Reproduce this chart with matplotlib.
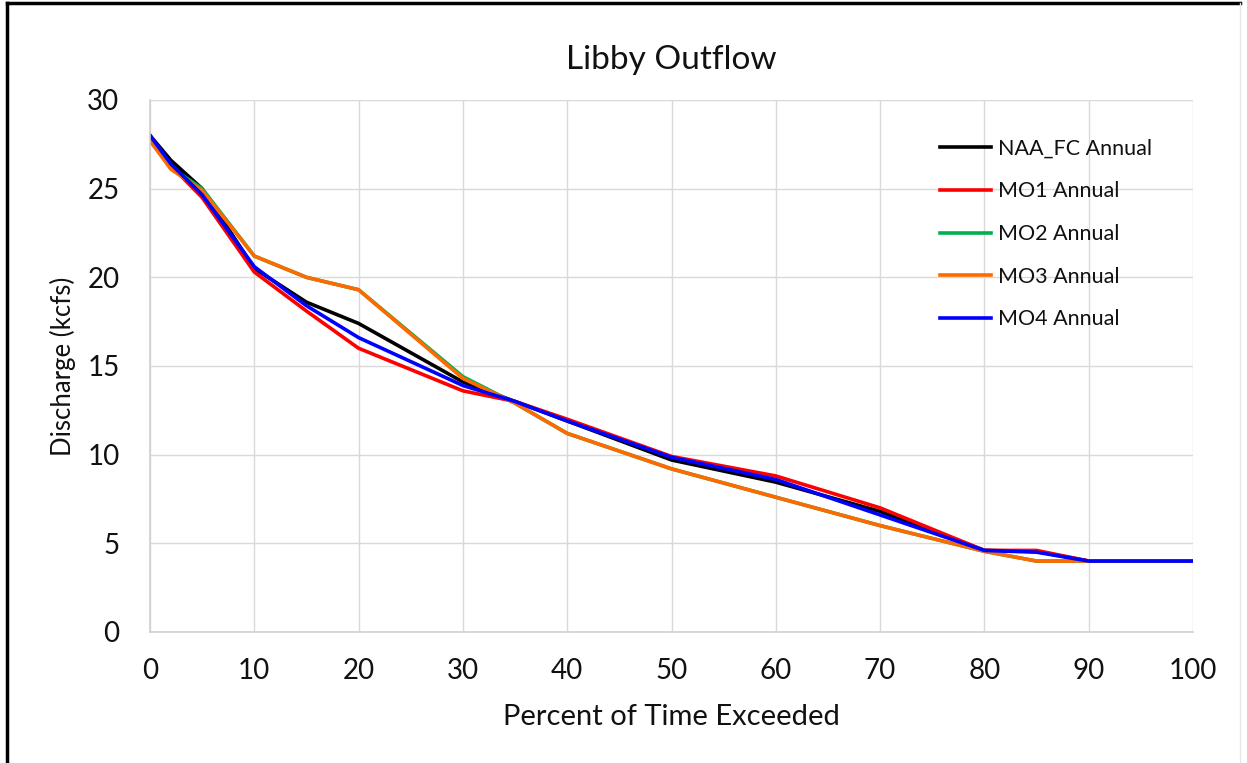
import matplotlib.pyplot as plt
from matplotlib.lines import Line2D

# exceedance percent and discharge (kcfs)
pct = [0, 2, 5, 10, 15, 20, 30, 35, 40, 50, 60, 70, 80, 85, 90, 100]
naa_fc = [28.0, 26.6, 25.0, 20.5, 18.6, 17.4, 14.1, 13.0, 11.9, 9.7, 8.45, 6.8, 4.6, 4.55, 4.0, 4.0]
mo1 = [28.0, 26.3, 24.5, 20.3, 18.1, 16.0, 13.6, 13.0, 12.0, 9.9, 8.8, 7.0, 4.6, 4.6, 4.0, 4.0]
mo2 = [27.8, 26.2, 25.0, 21.2, 20.0, 19.3, 14.4, 12.9, 11.2, 9.2, 7.6, 6.0, 4.55, 4.0, 4.0, 4.0]
mo3 = [27.7, 26.1, 24.9, 21.2, 20.0, 19.3, 14.3, 12.9, 11.2, 9.2, 7.6, 6.0, 4.55, 4.0, 4.0, 4.0]
mo4 = [28.0, 26.4, 24.65, 20.6, 18.4, 16.6, 13.9, 13.0, 11.9, 9.85, 8.6, 6.6, 4.6, 4.5, 4.0, 4.0]

series = [
    ("NAA_FC Annual", naa_fc, "#000000"),
    ("MO1 Annual", mo1, "#ff0000"),
    ("MO2 Annual", mo2, "#00b050"),
    ("MO3 Annual", mo3, "#ff6a00"),
    ("MO4 Annual", mo4, "#0000ff"),
]

x_ticks = [0, 10, 20, 30, 40, 50, 60, 70, 80, 90, 100]
y_ticks = [0, 5, 10, 15, 20, 25, 30]

plt.rcParams["font.family"] = ["Lato", "DejaVu Sans"]

fig = plt.figure(figsize=(12.47, 7.63), dpi=100)
ax = fig.add_axes([150 / 1247, 1 - 632 / 763, (1193 - 150) / 1247, (632 - 100) / 763])

for label, vals, color in series:
    ax.plot(pct, vals, color=color, lw=2.6, label=label, solid_joinstyle="round")

ax.set_xlim(0, 100)
ax.set_ylim(0, 30)
ax.set_xticks(x_ticks)
ax.set_yticks(y_ticks)
ax.tick_params(axis="both", length=0, labelsize=20, colors="#111111")
ax.tick_params(axis="x", pad=19)
ax.tick_params(axis="y", pad=22)
ax.grid(True, color="#d9d9d9", lw=1)
ax.set_axisbelow(True)
for side in ["top", "right"]:
    ax.spines[side].set_visible(False)
for side in ["left", "bottom"]:
    ax.spines[side].set_color("#d0d0d0")
    ax.spines[side].set_linewidth(1.2)

ax.set_title("Libby Outflow", fontsize=24, color="#111111", pad=22)
ax.set_xlabel("Percent of Time Exceeded", fontsize=21, color="#111111", labelpad=14)
ax.set_ylabel("Discharge (kcfs)", fontsize=18.5, color="#111111", labelpad=8)

leg = ax.legend(loc="upper left", bbox_to_anchor=(0.757, 0.927), frameon=False,
                borderpad=0, borderaxespad=0, fontsize=15.5, handlelength=2.4,
                handletextpad=0.3, labelspacing=1.05)
for t in leg.get_texts():
    t.set_color("#111111")

# outer frame of the picture
fig.add_artist(Line2D([7 / 1247, 7 / 1247], [0, 1 - 3 / 763], color="black", lw=2.5))
fig.add_artist(Line2D([7 / 1247, 1240 / 1247], [1 - 3 / 763, 1 - 3 / 763], color="black", lw=2.5))
fig.add_artist(Line2D([1240 / 1247, 1240 / 1247], [0, 1 - 3 / 763], color="#e6e6e6", lw=1))

fig.savefig("out.png", dpi=100)
